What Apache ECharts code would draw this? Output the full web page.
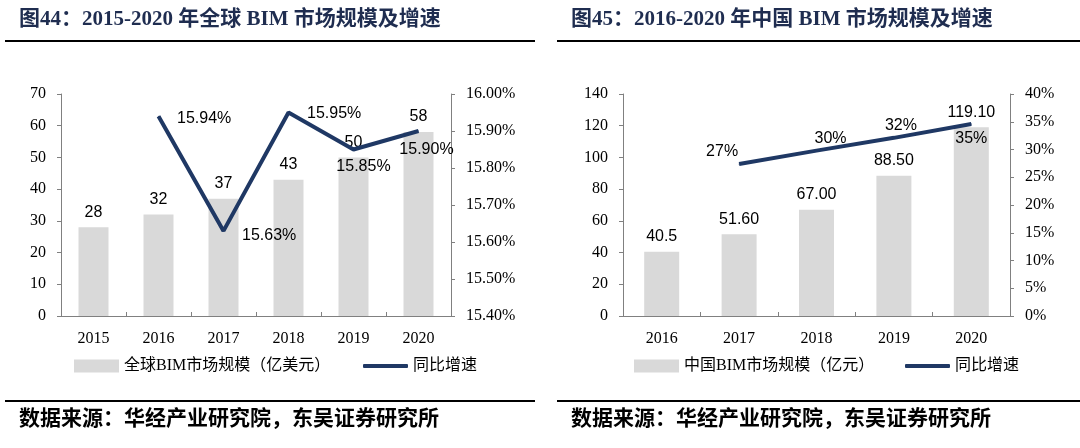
<!DOCTYPE html>
<html>
<head>
<meta charset="utf-8">
<script src="https://cdn.jsdelivr.net/npm/echarts@6/dist/echarts.min.js"></script>
<style>
html,body{margin:0;padding:0;background:#fff;}
#c{width:1080px;height:448px;}
</style>
</head>
<body>
<div id="c"></div>
<script>
// ---- Data ----
var yearsA = ['2015', '2016', '2017', '2018', '2019', '2020'];
var marketA = [28, 32, 37, 43, 50, 58];                 // 全球BIM市场规模（亿美元）
var growthA = ['-', 15.94, 15.63, 15.95, 15.85, 15.90]; // 同比增速 (%)

var yearsB = ['2016', '2017', '2018', '2019', '2020'];
var marketB = [40.5, 51.6, 67.0, 88.5, 119.1];           // 中国BIM市场规模（亿元）
var marketBLabels = ['40.5', '51.60', '67.00', '88.50', '119.10'];
var growthB = ['-', 27.4, 29.8, 32.1, 34.6];             // 同比增速 (%)

var titleA = '图44：2015-2020 年全球 BIM 市场规模及增速';
var titleB = '图45：2016-2020 年中国 BIM 市场规模及增速';
var sourceText = '数据来源：华经产业研究院，东吴证券研究所';
var legendBarA = '全球BIM市场规模（亿美元）';
var legendBarB = '中国BIM市场规模（亿元）';
var legendLine = '同比增速';

// ---- Styles ----
var SERIF = '"Liberation Serif", "Noto Sans CJK SC", serif';
var SANS = '"Liberation Sans", Arial, sans-serif';
var LEG = '"Liberation Serif", "Noto Sans CJK SC", serif';
var AXIS_COLOR = '#808080';
var BAR_COLOR = '#d9d9d9';
var LINE_COLOR = '#1f3864';
var TITLE_COLOR = '#1f2d50';

// label placement for line points (style, not data)
var lineLabelA = [null,
  {position: 'right', distance: 18, offset: [0, 2]},
  {position: 'right', distance: 18, offset: [0, 5]},
  {position: 'right', distance: 18, offset: [0, 1]},
  {position: 'bottom', distance: 9, offset: [10, 0]},
  {position: 'bottom', distance: 10, offset: [8, 0]}
];
var lineLabelB = [null,
  {position: 'top', distance: 4, offset: [-17, 0]},
  {position: 'top', distance: 4, offset: [14, 0]},
  {position: 'top', distance: 4, offset: [7, 0]},
  {position: 'bottom', distance: 6, offset: [0, 0]}
];

function lineData(vals, pos, fmt) {
  return vals.map(function (v, i) {
    if (v === '-') return '-';
    return {value: v, label: Object.assign({formatter: fmt(v)}, pos[i])};
  });
}

function valueAxis(grid, side, min, max, interval, fmt) {
  return {
    type: 'value', gridIndex: grid, position: side,
    min: min, max: max, interval: interval,
    axisLine: {show: true, lineStyle: {color: AXIS_COLOR, width: 1}},
    axisTick: {show: true, inside: false, length: 4, lineStyle: {color: AXIS_COLOR}},
    splitLine: {show: false},
    axisLabel: {
      fontFamily: SERIF, fontSize: 16, color: '#000', margin: 15,
      formatter: fmt
    }
  };
}

function catAxis(grid, data) {
  return {
    type: 'category', gridIndex: grid, data: data, boundaryGap: true,
    axisLine: {show: true, lineStyle: {color: AXIS_COLOR, width: 1}},
    axisTick: {show: true, inside: true, length: 4, lineStyle: {color: AXIS_COLOR}},
    axisLabel: {fontFamily: SERIF, fontSize: 16, color: '#000', margin: 15}
  };
}

function legendOf(item, left, h) {
  return {
    data: [item], left: left, top: 353, padding: 5,
    itemWidth: 45, itemHeight: h, selectedMode: false,
    textStyle: {fontFamily: LEG, fontSize: 16, color: '#000'}
  };
}

var chart = echarts.init(document.getElementById('c'), null, {renderer: 'canvas'});

var option = {
  animation: false,
  backgroundColor: '#fff',
  grid: [
    {left: 61, right: 1080 - 451, top: 94, bottom: 132},
    {left: 623, right: 1080 - 1010, top: 94, bottom: 132}
  ],
  xAxis: [catAxis(0, yearsA), catAxis(1, yearsB)],
  yAxis: [
    valueAxis(0, 'left', 0, 70, 10, function (v) { return v; }),
    valueAxis(0, 'right', 15.4, 16.0, 0.1, function (v) { return v.toFixed(2) + '%'; }),
    valueAxis(1, 'left', 0, 140, 20, function (v) { return v; }),
    valueAxis(1, 'right', 0, 40, 5, function (v) { return v + '%'; })
  ],
  legend: [
    legendOf({name: legendBarA, icon: 'rect'}, 69, 13),
    legendOf({name: legendLine, icon: 'roundRect'}, 358, 4),
    legendOf({name: legendBarB, icon: 'rect'}, 629, 13),
    legendOf({name: legendLine, icon: 'roundRect'}, 900, 4)
  ],
  series: [
    {
      name: legendBarA, type: 'bar', xAxisIndex: 0, yAxisIndex: 0,
      data: marketA, barWidth: 30,
      itemStyle: {color: BAR_COLOR},
      label: {show: true, position: 'top', distance: 7, fontFamily: SANS, fontSize: 16, color: '#000'}
    },
    {
      name: legendLine, type: 'line', xAxisIndex: 0, yAxisIndex: 1,
      data: lineData(growthA, lineLabelA, function (v) { return v.toFixed(2) + '%'; }),
      symbol: 'circle', symbolSize: 1, showSymbol: true,
      itemStyle: {color: LINE_COLOR},
      lineStyle: {color: LINE_COLOR, width: 4},
      label: {show: true, fontFamily: SANS, fontSize: 16, color: '#000'},
      z: 5
    },
    {
      name: legendBarB, type: 'bar', xAxisIndex: 1, yAxisIndex: 2,
      data: marketB, barWidth: 35,
      itemStyle: {color: BAR_COLOR},
      label: {show: true, position: 'top', distance: 7, fontFamily: SANS, fontSize: 16, color: '#000',
        formatter: function (p) { return marketBLabels[p.dataIndex]; }}
    },
    {
      name: legendLine, type: 'line', xAxisIndex: 1, yAxisIndex: 3,
      data: lineData(growthB, lineLabelB, function (v) { return Math.round(v) + '%'; }),
      symbol: 'circle', symbolSize: 1, showSymbol: true,
      itemStyle: {color: LINE_COLOR},
      lineStyle: {color: LINE_COLOR, width: 4},
      label: {show: true, fontFamily: SANS, fontSize: 16, color: '#000'},
      z: 5
    }
  ],
  graphic: [
    {type: 'text', left: 19, top: 9, style: {text: titleA, font: 'bold 21px ' + SERIF, fill: TITLE_COLOR}},
    {type: 'text', left: 571, top: 9, style: {text: titleB, font: 'bold 21px ' + SERIF, fill: TITLE_COLOR}},
    {type: 'rect', shape: {x: 5, y: 40, width: 530, height: 2}, style: {fill: '#000'}},
    {type: 'rect', shape: {x: 557, y: 40, width: 523, height: 2}, style: {fill: '#000'}},
    {type: 'rect', shape: {x: 5, y: 400, width: 530, height: 2}, style: {fill: '#000'}},
    {type: 'rect', shape: {x: 557, y: 400, width: 523, height: 2}, style: {fill: '#000'}},
    {type: 'text', left: 19, top: 409, style: {text: sourceText, font: 'bold 21px ' + SERIF, fill: '#000'}},
    {type: 'text', left: 571, top: 409, style: {text: sourceText, font: 'bold 21px ' + SERIF, fill: '#000'}}
  ]
};

chart.setOption(option);
</script>
</body>
</html>
